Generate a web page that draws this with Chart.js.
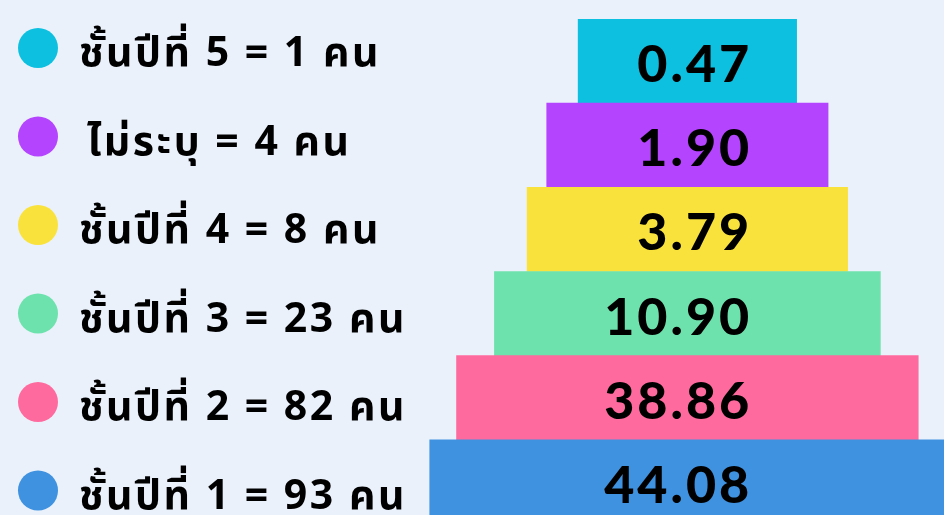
<!DOCTYPE html>
<html lang="th">
<head>
<meta charset="utf-8">
<title>สัดส่วนนักศึกษาแยกตามชั้นปี</title>
<script src="https://cdn.jsdelivr.net/npm/chart.js@4.4.0/dist/chart.umd.min.js"></script>
<style>
  html, body { margin: 0; padding: 0; background: #EAF1FB; overflow: hidden; }
  #wrap { position: relative; width: 944px; height: 525px; }
</style>
</head>
<body>
<div id="wrap"><canvas id="pyramidChart"></canvas></div>
<script>
// ข้อมูลจากภาพ (เรียงจากชั้นบนสุดของพีระมิดลงล่าง)
const groupLabels = ['ชั้นปีที่ 5', 'ไม่ระบุ', 'ชั้นปีที่ 4', 'ชั้นปีที่ 3', 'ชั้นปีที่ 2', 'ชั้นปีที่ 1'];
const studentCounts = [1, 4, 8, 23, 82, 93];
const percentValues = [0.47, 1.90, 3.79, 10.90, 38.86, 44.08];
// ความกว้างของแต่ละชั้น เทียบกับชั้นล่างสุด = 100
const tierWidths = [42.4, 54.6, 62.2, 74.9, 89.6, 100];

const tierColors = ['#0DC0E0', '#B444FE', '#FAE23C', '#6EE2AD', '#FF6A9E', '#3F92E0'];

// คำอธิบายด้านซ้าย (วงกลม + ข้อความ)
const sideLegend = {
    id: 'sideLegend',
    afterDraw(chart) {
        const ctx = chart.ctx;
        ctx.save();
        ctx.font = 'bold 41px "Noto Sans Thai", "Noto Sans", sans-serif';
        ctx.letterSpacing = '2.5px';
        ctx.textAlign = 'left';
        ctx.textBaseline = 'alphabetic';
        groupLabels.forEach((label, i) => {
            const y = 48 + i * 88.5;
            ctx.fillStyle = tierColors[i];
            ctx.beginPath();
            ctx.arc(38, y, 20, 0, Math.PI * 2);
            ctx.fill();
            ctx.fillStyle = '#000';
            const x = label.startsWith('ไม่') ? 87 : 79;
            ctx.fillText(`${label} = ${studentCounts[i]} คน`, x, y + 18);
        });
        ctx.restore();
    }
};

// ตัวเลขร้อยละในแต่ละชั้น
const valueLabels = {
    id: 'valueLabels',
    afterDatasetsDraw(chart) {
        const ctx = chart.ctx;
        const meta = chart.getDatasetMeta(0);
        const xRight = chart.scales.x.getPixelForValue(12);
        ctx.save();
        ctx.font = '900 52px Lato, sans-serif';
        ctx.letterSpacing = '3px';
        ctx.fillStyle = '#000';
        ctx.textAlign = 'right';
        ctx.textBaseline = 'alphabetic';
        meta.data.forEach((bar, i) => {
            ctx.fillText(percentValues[i].toFixed(2), xRight + 3, bar.y + 21);
        });
        ctx.restore();
    }
};

new Chart(document.getElementById('pyramidChart'), {
    type: 'bar',
    data: {
        labels: groupLabels,
        datasets: [{
            data: tierWidths.map(w => [-w / 2, w / 2]), // แท่งลอยจัดกึ่งกลาง
            backgroundColor: tierColors,
            borderWidth: 0,
            barPercentage: 1,
            categoryPercentage: 1
        }]
    },
    options: {
        indexAxis: 'y',
        responsive: true,
        maintainAspectRatio: false,
        animation: false,
        layout: { padding: { top: 19, bottom: 1, left: 0, right: 0 } },
        scales: {
            x: { type: 'linear', min: -133.4, max: 49.8, display: false },
            y: { display: false }
        },
        plugins: {
            legend: { display: false },
            tooltip: { enabled: false }
        }
    },
    plugins: [valueLabels, sideLegend]
});
</script>
</body>
</html>
